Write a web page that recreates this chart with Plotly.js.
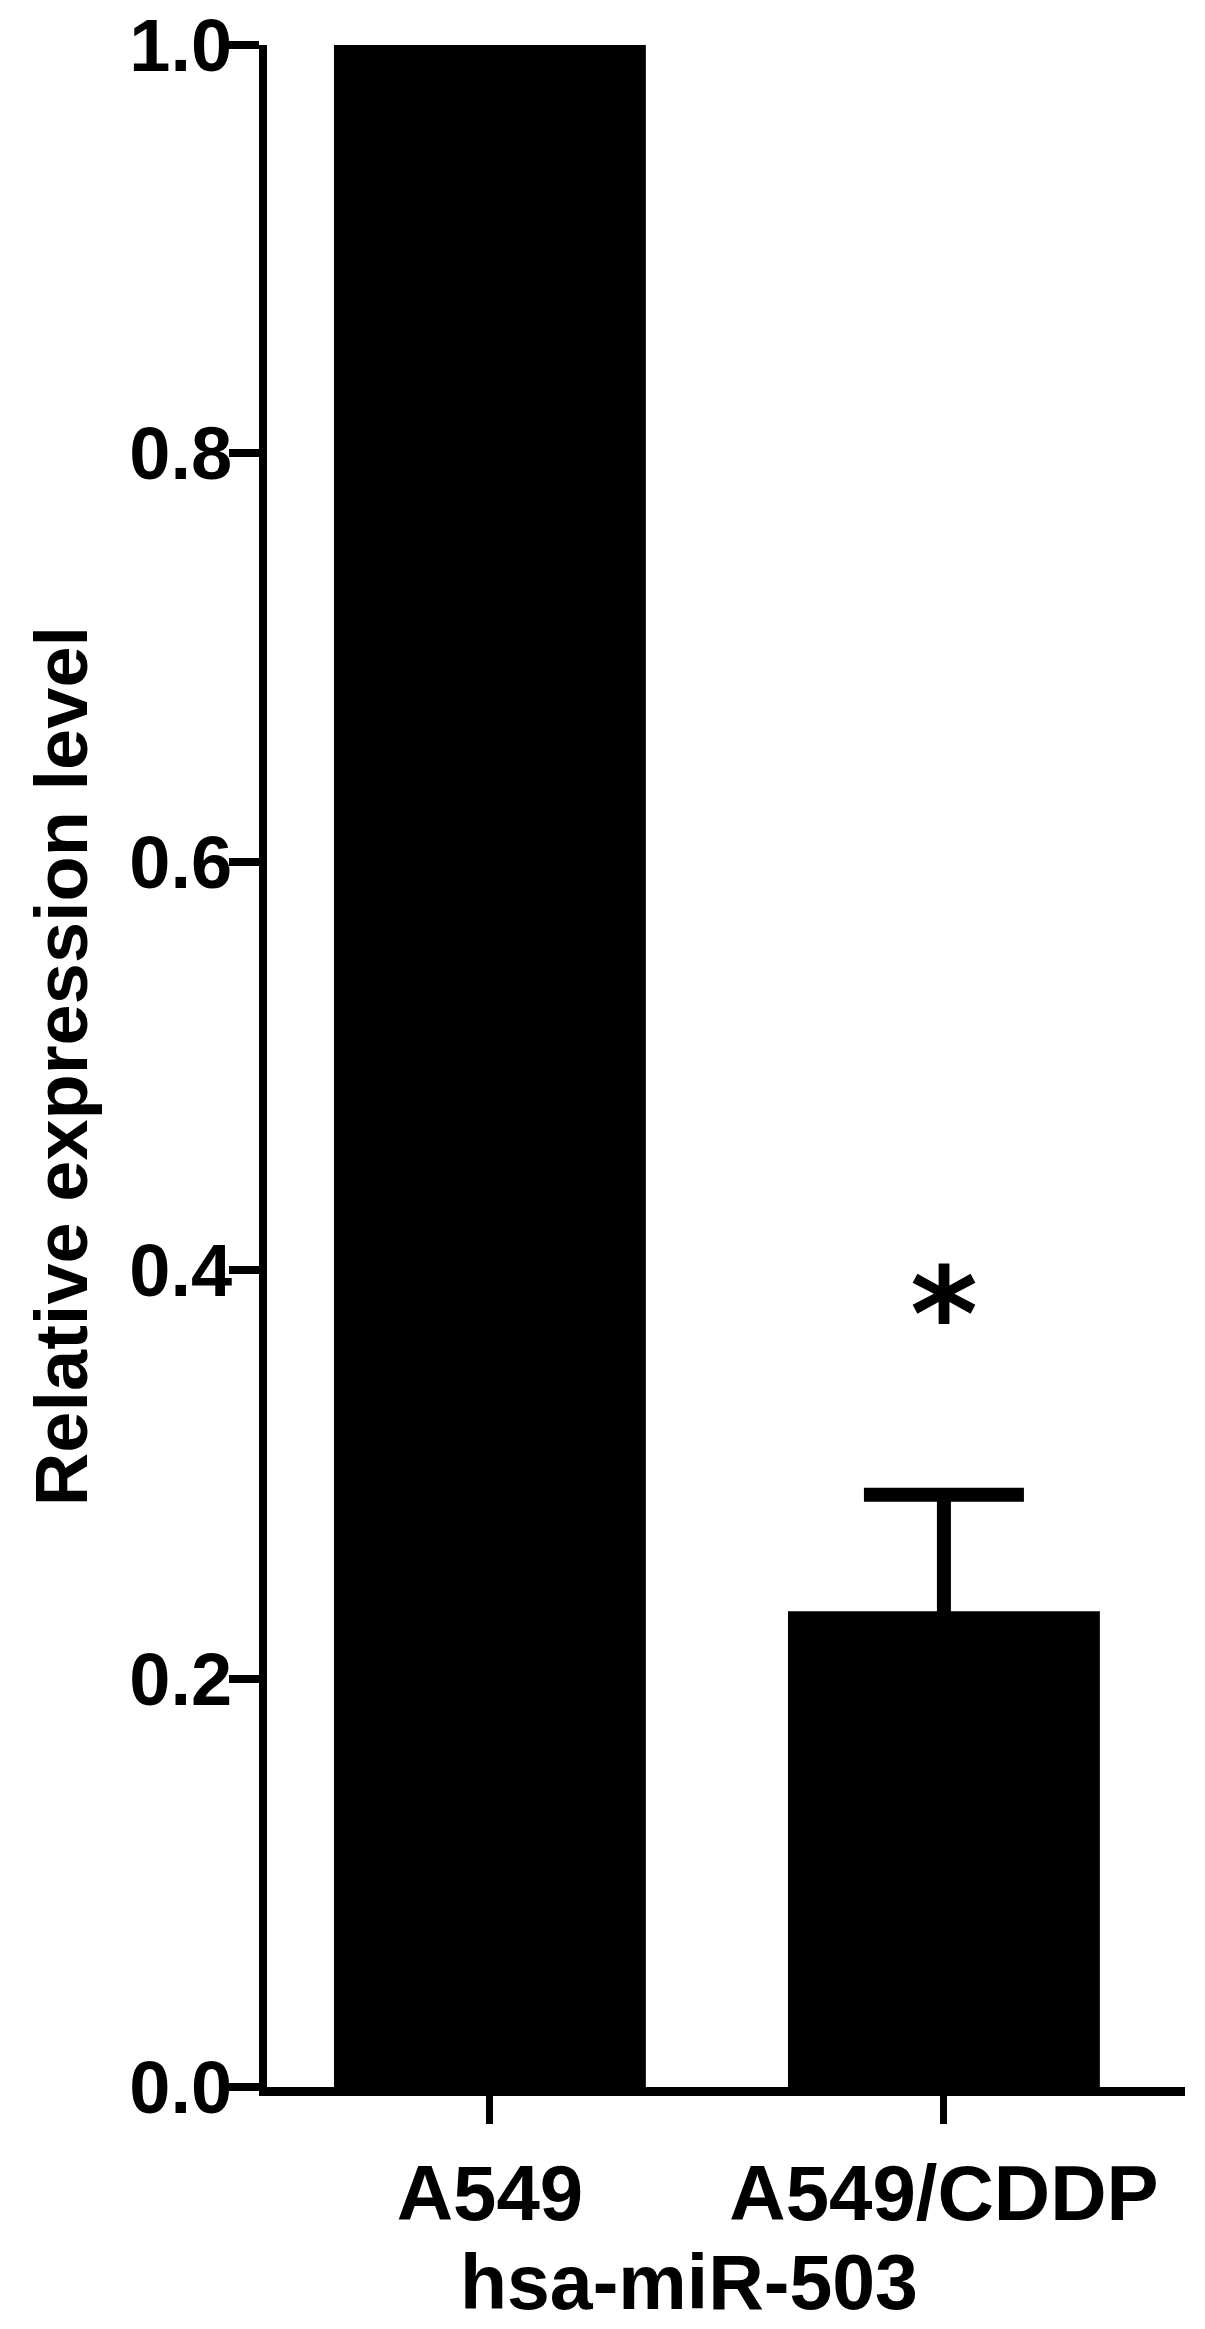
<!DOCTYPE html>
<html>
<head>
<meta charset="utf-8">
<script src="https://cdn.plot.ly/plotly-3.0.1.min.js"></script>
<style>
  html, body { margin: 0; padding: 0; background: #ffffff; }
  #chart { width: 1205px; height: 2329px; }
</style>
</head>
<body>
<div id="chart"></div>
<script>
// ===== Data =====
const categories = ['A549', 'A549/CDDP'];
const values = [1.0, 0.233];
const errors = [null, 0.057];
const sigLabels = ['', '*'];
const sigHeights = [null, 0.378];

const yTicks = [0, 0.2, 0.4, 0.6, 0.8, 1.0];

const FONT = '"Liberation Sans", Arial, Helvetica, sans-serif';

// ===== Bar chart =====
const barTrace = {
    x: categories,
    y: values,
    type: 'bar',
    width: 0.687,
    marker: { color: '#000000', line: { width: 0 } },
    // lower half of the error bar falls inside the black bar
    error_y: {
        type: 'data',
        array: errors,
        color: '#000000',
        thickness: 14,
        width: 80
    },
    hoverinfo: 'skip'
};

const annotations = [];
categories.forEach((c, i) => {
    if (sigLabels[i]) {
        annotations.push({
            x: c, y: sigHeights[i], xref: 'x', yref: 'y',
            text: sigLabels[i], showarrow: false,
            font: { family: '"DejaVu Sans", sans-serif', size: 130, color: '#000000' }
        });
    }
});

// x axis title, sits a little left of the plot centre
annotations.push({
    x: 0.46, xref: 'paper', xanchor: 'center',
    y: -0.0955, yref: 'paper', yanchor: 'middle',
    text: 'hsa-miR-503', showarrow: false,
    font: { family: FONT, size: 77, weight: 'bold', color: '#000000' }
});

const layout = {
    width: 1205,
    height: 2329,
    margin: { l: 267, r: 20, t: 45, b: 242 },
    paper_bgcolor: '#ffffff',
    plot_bgcolor: '#ffffff',
    showlegend: false,
    font: { family: FONT, color: '#000000', weight: 'bold' },
    xaxis: {
        type: 'category',
        range: [-0.491, 1.531],
        showline: true,
        linecolor: '#000000',
        linewidth: 9,
        ticks: 'outside',
        ticklen: 28,
        tickwidth: 7,
        tickcolor: '#000000',
        ticklabelstandoff: 2,
        showgrid: false,
        zeroline: false,
        tickfont: { family: FONT, size: 78, weight: 'bold', color: '#000000' }
    },
    yaxis: {
        range: [0, 1.0],
        tickvals: yTicks,
        tickformat: '.1f',
        showline: true,
        linecolor: '#000000',
        linewidth: 8,
        ticks: 'outside',
        ticklen: 30,
        tickwidth: 8,
        tickcolor: '#000000',
        ticklabelstandoff: -18,
        ticklabeloverflow: 'allow',
        showgrid: false,
        zeroline: false,
        tickfont: { family: FONT, size: 74, weight: 'bold', color: '#000000' },
        title: {
            text: 'Relative expression level',
            font: { family: FONT, size: 74, weight: 'bold', color: '#000000' },
            standoff: 20
        }
    },
    annotations: annotations
};

Plotly.newPlot('chart', [barTrace], layout, { displayModeBar: false, staticPlot: true });
</script>
</body>
</html>
